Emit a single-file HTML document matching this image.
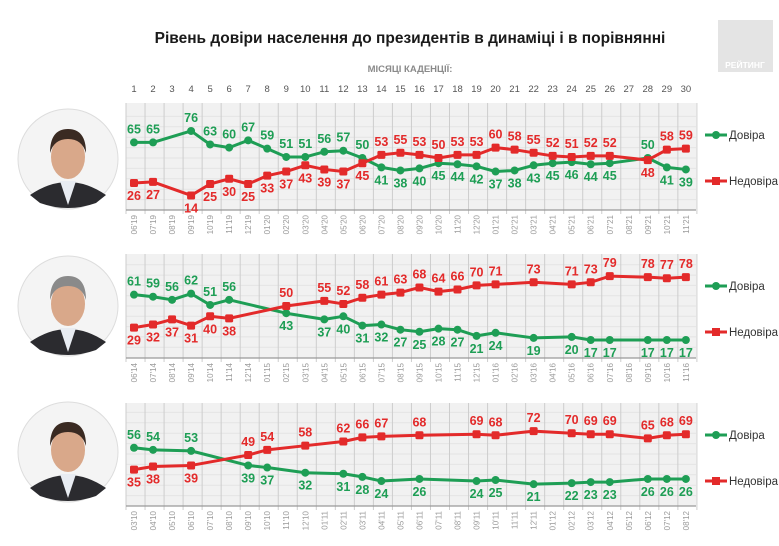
<!DOCTYPE html>
<html><head><meta charset="utf-8"><style>
body{margin:0;background:#fff;}
svg{display:block;font-family:"Liberation Sans",sans-serif;}
.lbl{font-family:"Liberation Sans Narrow","Liberation Sans",sans-serif;font-weight:bold;font-size:12.5px;text-anchor:middle;}
</style></head><body>
<svg id="chart" width="779" height="546" viewBox="0 0 779 546" xmlns="http://www.w3.org/2000/svg">
<rect width="779" height="546" fill="#fff"/>
<text x="410" y="43" font-size="15.5" font-weight="bold" text-anchor="middle" fill="#1a1a1a">Рівень довіри населення до президентів в динаміці і в порівнянні</text>
<text x="410" y="72" font-size="9.5" font-weight="bold" text-anchor="middle" fill="#8a8a8a">МІСЯЦІ КАДЕНЦІЇ:</text>
<g>
<rect x="718" y="20" width="55" height="52" fill="#e4e4e4"/>
<text x="745" y="68" font-size="8.5" font-weight="bold" text-anchor="middle" fill="#fff">РЕЙТИНГ</text>
</g>
<g id="cols"></g>
<g id="panels"></g>
</svg>
<script>
const colNums = Array.from({length:30},(_,i)=>String(i+1));
const datesP1 = ["06'19","07'19","08'19","09'19","10'19","11'19","12'19","01'20","02'20","03'20","04'20","05'20","06'20","07'20","08'20","09'20","10'20","11'20","12'20","01'21","02'21","03'21","04'21","05'21","06'21","07'21","08'21","09'21","10'21","11'21"];
const datesP2 = ["06'14","07'14","08'14","09'14","10'14","11'14","12'14","01'15","02'15","03'15","04'15","05'15","06'15","07'15","08'15","09'15","10'15","11'15","12'15","01'16","02'16","03'16","04'16","05'16","06'16","07'16","08'16","09'16","10'16","11'16"];
const datesP3 = ["03'10","04'10","05'10","06'10","07'10","08'10","09'10","10'10","11'10","12'10","01'11","02'11","03'11","04'11","05'11","06'11","07'11","08'11","09'11","10'11","11'11","12'11","01'12","02'12","03'12","04'12","05'12","06'12","07'12","08'12"];
const trustP1 = [65,65,null,76,63,60,67,59,51,51,56,57,50,41,38,40,45,44,42,37,38,43,45,46,44,45,null,50,41,39];
const distrustP1 = [26,27,null,14,25,30,25,33,37,43,39,37,45,53,55,53,50,53,53,60,58,55,52,51,52,52,null,48,58,59];
const trustP2 = [61,59,56,62,51,56,null,null,43,null,37,40,31,32,27,25,28,27,21,24,null,19,null,20,17,17,null,17,17,17];
const distrustP2 = [29,32,37,31,40,38,null,null,50,null,55,52,58,61,63,68,64,66,70,71,null,73,null,71,73,79,null,78,77,78];
const trustP3 = [56,54,null,53,null,null,39,37,null,32,null,31,28,24,null,26,null,null,24,25,null,21,null,22,23,23,null,26,26,26];
const distrustP3 = [35,38,null,39,null,null,49,54,null,58,null,62,66,67,null,68,null,null,69,68,null,72,null,70,69,69,null,65,68,69];
const legendTrust = "Довіра", legendDistrust = "Недовіра";

const NS="http://www.w3.org/2000/svg";
const GREEN="#1e9e55", RED="#e32a2a";
const X0=134, DX=19.03;
const xOf=i=>X0+i*DX;
function mk(tag,attrs,parent){const e=document.createElementNS(NS,tag);for(const k in attrs)e.setAttribute(k,attrs[k]);parent.appendChild(e);return e;}
const cols=document.getElementById('cols');
colNums.forEach((c,i)=>{
  const t=mk('text',{x:xOf(i),y:92,'font-size':'9.5','text-anchor':'middle',fill:'#555'},cols);
  
  
  t.textContent=c;
});
const panels=[
 {top:103,base:210,k:1.04,axis:210,trust:trustP1,dist:distrustP1,dates:datesP1,cy:159,name:'zelensky'},
 {top:254,base:357.5,k:1.03,axis:358,trust:trustP2,dist:distrustP2,dates:datesP2,cy:306,name:'poroshenko'},
 {top:403,base:506,k:1.04,axis:506,trust:trustP3,dist:distrustP3,dates:datesP3,cy:452,name:'yanukovych'}
];
const pg=document.getElementById('panels');
panels.forEach(p=>{
  const g=mk('g',{},pg);
  
  
  const yOf=v=>p.base-v*p.k;
  const ph=mk('g',{},g);
  
  
  mk('circle',{cx:68,cy:p.cy,r:50,fill:'#f4f4f4',stroke:'#ddd'},ph);
  mk('path',{d:`M30 ${p.cy+36} Q68 ${p.cy+10} 106 ${p.cy+36} L96 ${p.cy+44} Q68 ${p.cy+54} 40 ${p.cy+44}Z`,fill:'#2b2b2f'},ph);
  mk('path',{d:`M60 ${p.cy+22} L68 ${p.cy+46} L76 ${p.cy+22}Z`,fill:'#e8ecf2'},ph);
  mk('ellipse',{cx:68,cy:p.cy-2,rx:17,ry:22,fill:'#d9a88a'},ph);
  mk('path',{d:`M50 ${p.cy-6} Q50 ${p.cy-30} 68 ${p.cy-30} Q86 ${p.cy-30} 86 ${p.cy-6} Q82 ${p.cy-20} 68 ${p.cy-20} Q54 ${p.cy-20} 50 ${p.cy-6}Z`,fill:p.name==='poroshenko'?'#8a8a8a':'#3a2a22'},ph);
  const box=mk('rect',{x:126,y:p.top,width:570,height:p.axis-p.top,fill:'#f1f1f1'},g);
  
  
  for(let v=10;v<100;v+=10){const yy=yOf(v);if(yy>p.top)mk('line',{x1:126,x2:696,y1:yy,y2:yy,stroke:'#e4e4e4','stroke-width':1},g);}
  for(let i=0;i<=30;i++){const xx=126+i*DX;mk('line',{x1:xx,x2:xx,y1:p.top,y2:p.axis+4,stroke:'#cdcdcd','stroke-width':1},g);}
  mk('line',{x1:126,x2:696,y1:p.axis,y2:p.axis,stroke:'#999','stroke-width':1.2},g);
  p.dates.forEach((d,i)=>{
    const t=mk('text',{x:0,y:0,'font-size':'8','text-anchor':'end',fill:'#9a9a9a',transform:`translate(${xOf(i)+3},${p.axis+5}) rotate(-90)`},g);
    
    
    t.textContent=d;
  });
  function series(vals,other,color,sq,nm){
    const sg=mk('g',{},g);
    
    
    const pts=[];vals.forEach((v,i)=>{if(v!==null)pts.push([xOf(i),yOf(v),v,i]);});
    const ln=mk('polyline',{points:pts.map(q=>q[0]+','+q[1]).join(' '),fill:'none',stroke:color,'stroke-width':3,'stroke-linejoin':'round'},sg);
    
    
    pts.forEach(([x,y,v,i])=>{
      let m;
      if(sq){m=mk('rect',{x:x-4,y:y-4,width:8,height:8,rx:1.5,fill:color},sg);}
      else{m=mk('circle',{cx:x,cy:y,r:4,fill:color},sg);}
      
      
      const o=other[i];
      const above = (o===null)||v>=o;
      const t=mk('text',{x:x,y:above?y-9:y+17,fill:color,class:'lbl'},sg);
      
      
      t.textContent=v;
    });
  }
  series(p.trust,p.dist,GREEN,false,'trust-series');
  series(p.dist,p.trust,RED,true,'distrust-series');
  const ly1=p.top+32, ly2=p.top+78;
  const l1=mk('g',{},g);
  
  
  mk('line',{x1:705,x2:727,y1:ly1,y2:ly1,stroke:GREEN,'stroke-width':3},l1);
  mk('circle',{cx:716,cy:ly1,r:4,fill:GREEN},l1);
  const t1=mk('text',{x:729,y:ly1+4,'font-size':'11.5',fill:'#333'},l1);t1.textContent=legendTrust;
  const l2=mk('g',{},g);
  
  
  mk('line',{x1:705,x2:727,y1:ly2,y2:ly2,stroke:RED,'stroke-width':3},l2);
  mk('rect',{x:712,y:ly2-4,width:8,height:8,fill:RED},l2);
  const t2=mk('text',{x:729,y:ly2+4,'font-size':'11.5',fill:'#333'},l2);t2.textContent=legendDistrust;
});
</script>
</body></html>
